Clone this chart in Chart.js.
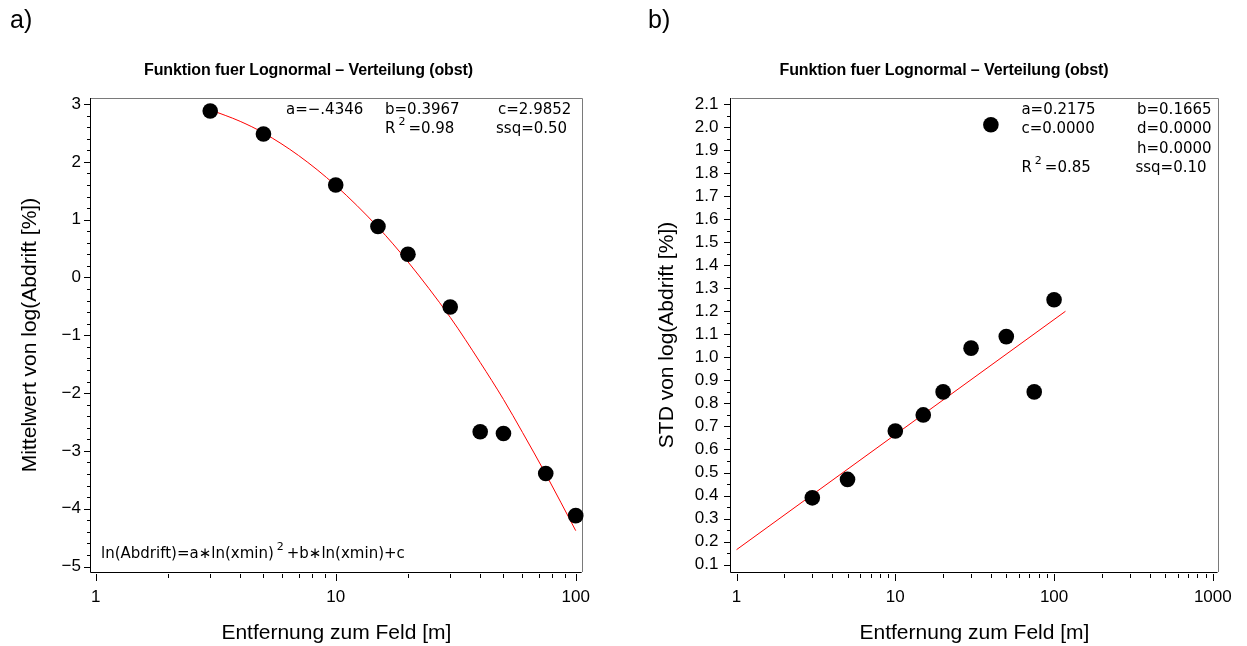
<!DOCTYPE html>
<html><head><meta charset="utf-8">
<script src="https://cdn.jsdelivr.net/npm/chart.js@4"></script>
<style>
html,body{margin:0;padding:0;background:#fff;}
#wrap{position:relative;width:1247px;height:646px;overflow:hidden;background:#fff;font-family:'Liberation Sans',Arial,sans-serif;color:#000;}
canvas{position:absolute;top:0;}
#cA{left:0;} #cB{left:623px;}
.panel{position:absolute;top:4px;font-size:25px;line-height:30px;}
.ttl{position:absolute;top:61px;width:440px;text-align:center;font-weight:bold;font-size:16px;line-height:18px;letter-spacing:-0.1px;}
</style></head>
<body><div id="wrap">
<canvas id="cA" width="623" height="646"></canvas>
<canvas id="cB" width="624" height="646"></canvas>
<div class="panel" style="left:10px">a)</div>
<div class="panel" style="left:648px">b)</div>
<div class="ttl" style="left:88.5px">Funktion fuer Lognormal – Verteilung (obst)</div>
<div class="ttl" style="left:724px">Funktion fuer Lognormal – Verteilung (obst)</div>
</div>
<script>
// ---- data ----
const distances = [3, 5, 10, 15, 20, 30, 40, 50, 75, 100];
const meanLog   = [2.88, 2.48, 1.60, 0.88, 0.40, -0.51, -2.67, -2.70, -3.39, -4.12];
const stdLog    = [0.39, 0.47, 0.68, 0.75, 0.85, 1.04, 2.01, 1.09, 0.85, 1.25];
const meanFitX  = [3, 4, 5, 7, 10, 15, 20, 30, 40, 50, 60, 75, 100];
const meanFitY  = [2.90, 2.70, 2.50, 2.11, 1.59, 0.87, 0.27, -0.69, -1.47, -2.11, -2.68, -3.40, -4.38];
const stdFitX   = [1, 118];
const stdFitY   = [0.165, 1.20];
// ---- tick labels ----
const xTicksA = [1, 10, 100];
const xTicksB = [1, 10, 100, 1000];
const yTicksA = [3, 2, 1, 0, -1, -2, -3, -4, -5];
const yTicksB = [2.1, 2.0, 1.9, 1.8, 1.7, 1.6, 1.5, 1.4, 1.3, 1.2, 1.1, 1.0, 0.9, 0.8, 0.7, 0.6, 0.5, 0.4, 0.3, 0.2, 0.1];
// ---- annotation texts ----
const annA = [
  {segs:[{t:'a=−.4346'}], dx:195, dy:12},
  {segs:[{t:'b=0.3967'}], dx:294, dy:12},
  {segs:[{t:'c=2.9852'}], dx:407, dy:12},
  {segs:[{t:'R'},{t:'2',sup:true},{t:'=0.98'}], dx:294, dy:31},
  {segs:[{t:'ssq=0.50'}], dx:405, dy:31},
  {segs:[{t:'ln(Abdrift)=a∗ln(xmin)'},{t:'2',sup:true},{t:'+b∗ln(xmin)+c'}], dx:10, dyb:-18}
];
const annB = [
  {segs:[{t:'a=0.2175'}], dx:290, dy:12},
  {segs:[{t:'b=0.1665'}], dxr:-6, dy:12},
  {segs:[{t:'c=0.0000'}], dx:290, dy:31},
  {segs:[{t:'d=0.0000'}], dxr:-6, dy:31},
  {segs:[{t:'h=0.0000'}], dxr:-6, dy:51},
  {segs:[{t:'R'},{t:'2',sup:true},{t:'=0.85'}], dx:290, dy:70},
  {segs:[{t:'ssq=0.10'}], dxr:-11, dy:70}
];

function minorLog(maxV){ const r=[]; for(let d=1; d<=maxV; d*=10){ for(let k=2;k<=9;k++){ if(d*k<=maxV) r.push(d*k);} } return r; }

function drawRich(ctx, segs, x, y, right){
  const base='15px "DejaVu Sans"', sup='11px "DejaVu Sans"';
  let w=0;
  segs.forEach(s=>{ctx.font=s.sup?sup:base; w+=ctx.measureText(s.t).width+(s.sup?6:0);});
  let cx = right ? x-w : x;
  segs.forEach(s=>{
    ctx.font=s.sup?sup:base;
    if(s.sup){cx+=3; ctx.fillText(s.t,cx,y-7); cx+=ctx.measureText(s.t).width+3;}
    else {ctx.fillText(s.t,cx,y); cx+=ctx.measureText(s.t).width;}
  });
}

const frame = {
  id:'frame',
  beforeDatasetsDraw(chart, args, o){
    const {ctx, chartArea:a, scales:{x,y}} = chart;
    ctx.save();
    ctx.lineWidth=1;
    ctx.strokeStyle='#7a7a7a';
    ctx.beginPath(); ctx.moveTo(a.left, a.top+0.5); ctx.lineTo(Math.round(a.right)+0.5, a.top+0.5); ctx.lineTo(Math.round(a.right)+0.5, a.bottom); ctx.stroke();
    ctx.strokeStyle='#000';
    ctx.beginPath(); ctx.moveTo(Math.round(a.left)-0.5, a.top); ctx.lineTo(Math.round(a.left)-0.5, a.bottom+0.5); ctx.lineTo(a.right, a.bottom+0.5); ctx.stroke();
    ctx.beginPath();
    o.xMajor.forEach(v=>{const p=Math.round(x.getPixelForValue(v))+0.5; ctx.moveTo(p,a.bottom+2); ctx.lineTo(p,a.bottom+9);});
    o.xMinor.forEach(v=>{const p=Math.round(x.getPixelForValue(v))+0.5; ctx.moveTo(p,a.bottom+2); ctx.lineTo(p,a.bottom+6);});
    const L=Math.round(a.left);
    o.yMajor.forEach(v=>{const p=Math.round(y.getPixelForValue(v))+0.5; ctx.moveTo(L,p); ctx.lineTo(L-7,p);});
    o.yMinor.forEach(v=>{const p=Math.round(y.getPixelForValue(v))+0.5; ctx.moveTo(L,p); ctx.lineTo(L-4,p);});
    ctx.stroke();
    ctx.fillStyle='#000'; ctx.textBaseline='middle';
    o.ann.forEach(n=>{
      const yy = n.dyb!==undefined ? a.bottom+n.dyb : a.top+n.dy;
      if(n.dxr!==undefined) drawRich(ctx,n.segs,a.right+n.dxr,yy,true);
      else drawRich(ctx,n.segs,a.left+n.dx,yy,false);
    });
    ctx.restore();
  }
};

Chart.defaults.font.family = '"Liberation Sans", Arial, sans-serif';
Chart.defaults.color = '#000';

function makeChart(id, cfg){
  return new Chart(document.getElementById(id), {
    type:'scatter',
    data:{datasets:[
      {data: cfg.fitX.map((v,i)=>({x:v,y:cfg.fitY[i]})), showLine:true, borderColor:'#ff0000', borderWidth:1, pointRadius:0, cubicInterpolationMode:'monotone', order:2},
      {data: distances.map((v,i)=>({x:v,y:cfg.vals[i]})), showLine:false, pointRadius:7.8, pointBorderWidth:0, backgroundColor:'#000', borderColor:'#000', clip:false, order:1}
    ]},
    options:{
      responsive:false, animation:false, devicePixelRatio:1,
      layout:{padding:{top:98,left:0,right:cfg.padR,bottom:0}},
      plugins:{legend:{display:false}, tooltip:{enabled:false}, frame:cfg.frame},
      scales:{
        x:{type:'logarithmic', min:cfg.xMin, max:cfg.xMax,
           afterBuildTicks:s=>{s.ticks=cfg.xTicks.map(v=>({value:v}));},
           afterFit:s=>{s.height=74;},
           ticks:{autoSkip:false, maxRotation:0, padding:15, font:{size:17}, callback:v=>String(v)},
           grid:{display:false, drawTicks:false}, border:{display:false},
           title:{display:true, text:'Entfernung zum Feld [m]', font:{size:21}, padding:{top:0,bottom:0}}},
        y:{type:'linear', min:cfg.yMin, max:cfg.yMax,
           afterBuildTicks:s=>{s.ticks=cfg.yTicks.map(v=>({value:v}));},
           afterFit:s=>{s.width=cfg.yW;},
           ticks:{autoSkip:false, padding:cfg.yPad, font:{size:17}, callback:cfg.yFmt},
           grid:{display:false, drawTicks:false}, border:{display:false},
           title:{display:true, text:cfg.yTitle, font:{size:21}, padding:{top:cfg.yTitlePad,bottom:0}}}
      }
    },
    plugins:[frame]
  });
}

makeChart('cA', {
  vals:meanLog, fitX:meanFitX, fitY:meanFitY, padR:41.3,
  xMin:0.956, xMax:105.9, xTicks:xTicksA,
  yMin:-5.095, yMax:3.104, yTicks:yTicksA, yW:91, yPad:10,
  yFmt:v=> (v<0 ? '−'+Math.abs(v) : String(v)),
  yTitle:'Mittelwert von log(Abdrift [%])', yTitlePad:18,
  frame:{xMajor:xTicksA, xMinor:minorLog(100), yMajor:yTicksA,
         yMinor:[2.8,2.6,2.4,2.2,1.8,1.6,1.4,1.2,0.8,0.6,0.4,0.2,-0.2,-0.4,-0.6,-0.8,-1.2,-1.4,-1.6,-1.8,-2.2,-2.4,-2.6,-2.8,-3.2,-3.4,-3.6,-3.8,-4.2,-4.4,-4.6,-4.8],
         ann:annA}
});

makeChart('cB', {
  vals:stdLog, fitX:stdFitX, fitY:stdFitY, padR:27,
  xMin:0.928, xMax:1071, xTicks:xTicksB,
  yMin:0.068, yMax:2.126, yTicks:yTicksB, yW:108.4, yPad:13,
  yFmt:v=>v.toFixed(1),
  yTitle:'STD von log(Abdrift [%])', yTitlePad:32,
  frame:{xMajor:xTicksB, xMinor:minorLog(1000), yMajor:yTicksB,
         yMinor:[2.05,1.95,1.85,1.75,1.65,1.55,1.45,1.35,1.25,1.15,1.05,0.95,0.85,0.75,0.65,0.55,0.45,0.35,0.25,0.15],
         ann:annB}
});
</script>
</body></html>
